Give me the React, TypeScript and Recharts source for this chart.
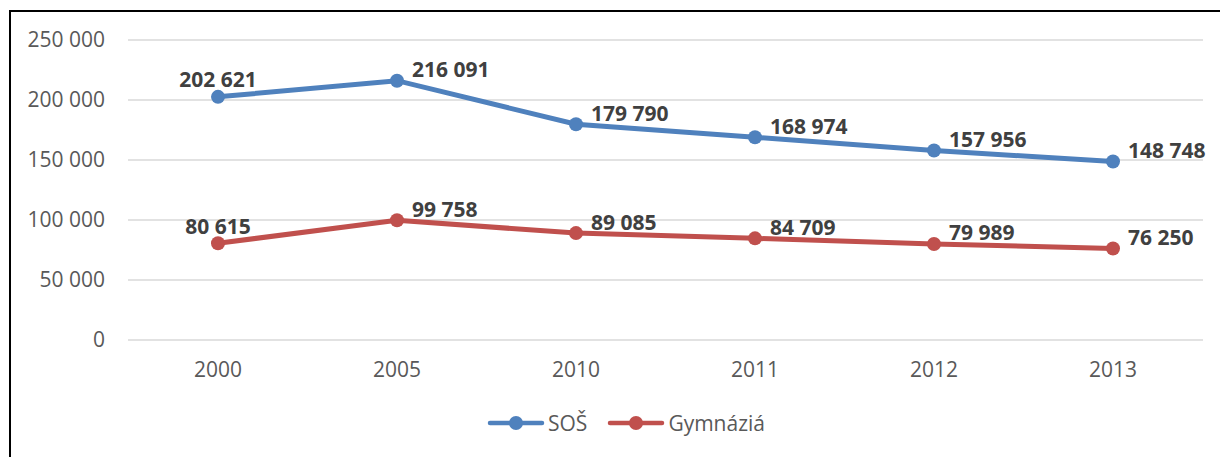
import React from "react"
import { LineChart, Line, XAxis, YAxis, CartesianGrid, LabelList } from "recharts"

const years = ["2000", "2005", "2010", "2011", "2012", "2013"]
const sosValues = [202621, 216091, 179790, 168974, 157956, 148748]
const gymValues = [80615, 99758, 89085, 84709, 79989, 76250]
const yTicks = [0, 50000, 100000, 150000, 200000, 250000]

const series = [
  { key: "sos", name: "SOŠ", color: "#4f81bd" },
  { key: "gym", name: "Gymnáziá", color: "#c0504d" },
]

const data = years.map((year, i) => ({ year, sos: sosValues[i], gym: gymValues[i] }))

const FONT = "'Open Sans', 'Liberation Sans', sans-serif"

const fmt = (v: number) => String(v).replace(/\B(?=(\d{3})+(?!\d))/g, " ")

function PointLabel(props: any) {
  const { x, y, value, index } = props
  const first = index === 0
  return (
    <text
      x={first ? x : x + 15}
      y={first ? y - 17 : y - 11}
      dy="0.355em"
      textAnchor={first ? "middle" : "start"}
      fontFamily={FONT}
      fontWeight={700}
      fontSize={21}
      fill="#404040"
    >
      {fmt(Number(value))}
    </text>
  )
}

function LegendRow() {
  return (
    <div
      style={{
        position: "absolute",
        top: 408,
        left: 0,
        width: 1220,
        display: "flex",
        justifyContent: "center",
        gap: 20,
        fontFamily: FONT,
        fontSize: 21,
        color: "#595959",
        paddingLeft: 32,
        boxSizing: "border-box",
      }}
    >
      {series.map((s) => (
        <div key={s.key} style={{ display: "flex", alignItems: "center", height: 30 }}>
          <svg width={58} height={16} style={{ marginRight: 3 }}>
            <line x1={3} y1={8} x2={55} y2={8} stroke={s.color} strokeWidth={4.5} strokeLinecap="round" />
            <circle cx={29} cy={8} r={7} fill={s.color} />
          </svg>
          <span>{s.name}</span>
        </div>
      ))}
    </div>
  )
}

export default function App() {
  return (
    <div style={{ position: "absolute", left: 0, top: 0, width: 1220, height: 457, overflow: "hidden", background: "#fff" }}>
      <div
        style={{
          position: "absolute",
          left: 9,
          top: 10,
          width: 1240,
          height: 470,
          border: "2px solid #000",
        }}
      />
      <div style={{ position: "absolute", left: 0, top: 0 }}>
        <LineChart width={1220} height={457} data={data} margin={{ top: 40, right: 17, left: 0, bottom: 77 }}>
          <CartesianGrid vertical={false} stroke="#d9d9d9" strokeWidth={1.5} />
          <XAxis
            dataKey="year"
            axisLine={false}
            tickLine={false}
            tickSize={0}
            tickMargin={22}
            height={40}
            padding={{ left: 90, right: 90 }}
            tick={{ fontFamily: FONT, fontSize: 21, fill: "#595959" }}
          />
          <YAxis
            domain={[0, 250000]}
            ticks={yTicks}
            axisLine={false}
            tickLine={false}
            tickSize={0}
            tickMargin={23}
            width={128}
            tickFormatter={fmt}
            tick={{ fontFamily: FONT, fontSize: 21, fill: "#595959" }}
          />
          {series.map((s) => (
            <Line
              key={s.key}
              dataKey={s.key}
              name={s.name}
              stroke={s.color}
              strokeWidth={5}
              dot={{ r: 7, fill: s.color, stroke: s.color, strokeWidth: 0 }}
              activeDot={false}
              isAnimationActive={false}
            >
              <LabelList dataKey={s.key} content={<PointLabel />} />
            </Line>
          ))}
        </LineChart>
      </div>
      <LegendRow />
    </div>
  )
}
